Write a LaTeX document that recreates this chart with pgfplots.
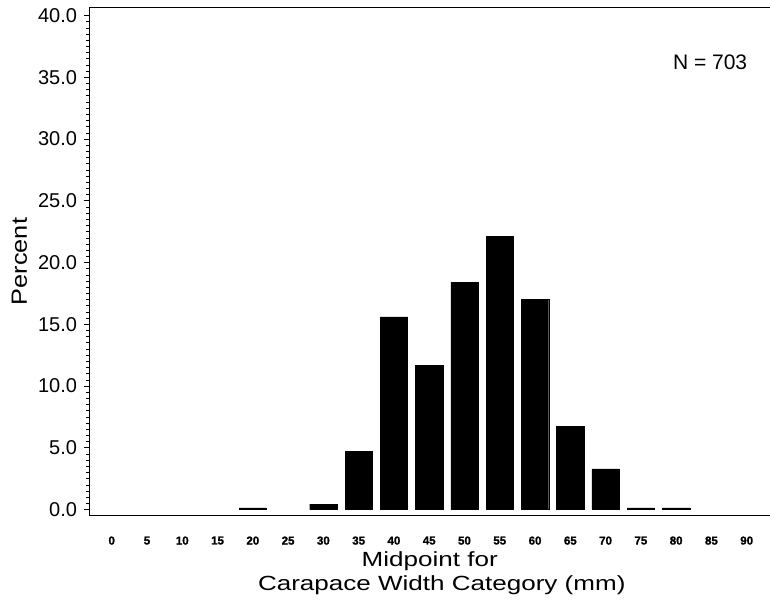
\documentclass[border=0pt]{standalone}
\usepackage{fontspec}
\setmainfont{Liberation Sans}
\newfontfamily\ylabfont[FakeStretch=1.15]{Liberation Sans}
\newfontfamily\xlabfont[FakeStretch=1.27]{Liberation Sans}
\newfontfamily\tickfont[FakeBold=1.5]{Liberation Sans Bold}
\usepackage{pgfplots}
\pgfplotsset{compat=1.18}
\begin{document}
\begin{tikzpicture}
\begin{axis}[name=ax, scale only axis, width=680.5pt, height=507pt,
  xmin=-0.63, xmax=18.66, ymin=-0.445, ymax=40.61,
  axis line style={line width=1pt, black},
  xtick={0,...,18},
  xticklabels={0,5,10,15,20,25,30,35,40,45,50,55,60,65,70,75,80,85,90},
  xtick style={draw=none},
  xticklabel style={font=\tickfont\fontsize{11.5}{13}\selectfont, yshift=-13pt},
  ytick={0,5,...,40}, minor y tick num=9,
  ytick pos=left, tick align=outside,
  major tick length=5pt, minor tick length=3pt,
  ytick style={line width=0.8pt, black},
  minor y tick style={line width=0.6pt, black},
  yticklabel style={/pgf/number format/.cd, fixed, fixed zerofill, precision=1, assume math mode=true, /tikz/.cd, font=\fontsize{20}{24}\selectfont, xshift=-4pt},
  ylabel={Percent},
  ylabel style={font=\ylabfont\fontsize{22}{26}\selectfont, at={(axis description cs:-0.103,0.5)}, anchor=center},
  xlabel={Midpoint for\\\hspace*{24pt}Carapace Width Category (mm)},
  xlabel style={font=\xlabfont\fontsize{20.5}{24.5}\selectfont, align=center, at={(axis description cs:0.5,-0.071)}, anchor=north, inner sep=0pt},
]
\addplot[ybar, bar width=0.774, fill=black, draw=black] coordinates {
 (4,0.14) (6,0.43) (7,4.7) (8,15.6) (9,11.7) (10,18.4) (11,22.1) (12,17.0) (13,6.75) (14,3.3) (15,0.14) (16,0.14)
};
\node[font=\fontsize{21}{25}\selectfont] at (rel axis cs:0.912,0.893) {N = 703};
\end{axis}
\pgfresetboundingbox
\path ([shift={(-89.5pt,-92pt)}]ax.south west) rectangle ++(770pt,607pt);
\end{tikzpicture}
\end{document}
